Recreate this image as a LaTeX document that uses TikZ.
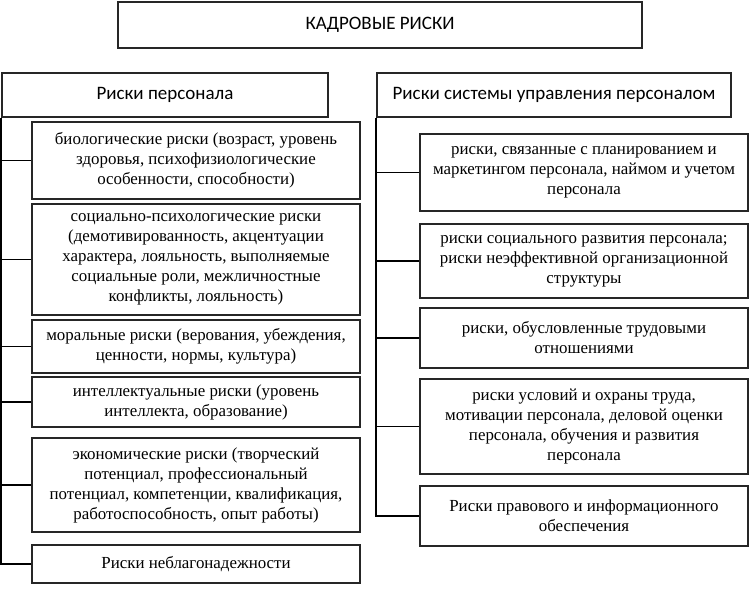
\documentclass[tikz,border=0pt]{standalone}
\usepackage{fontspec}
\setmainfont{Liberation Serif}
\newfontfamily\hdrfont{Carlito}
\begin{document}
\begin{tikzpicture}[x=1pt,y=-1pt,
  box/.style={draw=black!85, line width=1.5pt, align=center, inner sep=0pt,
    font=\rmfamily\fontsize{16.9}{20}\selectfont},
  hbox/.style={box, font=\hdrfont\fontsize{19}{20}\selectfont},
  link/.style={draw=black, line width=1.8pt}]
\useasboundingbox (0,0) rectangle (750,594);
\node[box, font=\hdrfont\fontsize{19}{20}\selectfont, minimum width=524pt, minimum height=46pt] (title) at (380,25) {КАДРОВЫЕ РИСКИ};
\node[hbox, minimum width=326pt, minimum height=44pt] (hL) at (165,95) {Риски персонала};
\node[hbox, minimum width=354pt, minimum height=44pt] (hR) at (554,95) {Риски системы управления персоналом};
% left column
\node[box, minimum width=328pt, minimum height=77pt] (L1) at (196,160.5) {биологические риски (возраст, уровень\\здоровья, психофизиологические\\особенности, способности)};
\node[box, minimum width=328pt, minimum height=111pt] (L2) at (196,259.5) {социально-психологические риски\\(демотивированность, акцентуации\\характера, лояльность, выполняемые\\социальные роли, межличностные\\конфликты, лояльность)};
\node[box, minimum width=328pt, minimum height=53pt] (L3) at (196,346.5) {моральные риски (верования, убеждения,\\ценности, нормы, культура)};
\node[box, minimum width=328pt, minimum height=50pt] (L4) at (196,402) {интеллектуальные риски (уровень\\интеллекта, образование)};
\node[box, minimum width=328pt, minimum height=94pt] (L5) at (196,485) {экономические риски (творческий\\потенциал, профессиональный\\потенциал, компетенции, квалификация,\\работоспособность, опыт работы)};
\node[box, minimum width=328pt, minimum height=38pt] (L6) at (196,564) {Риски неблагонадежности};
% right column
\node[box, minimum width=328pt, minimum height=77pt] (R1) at (584,172.5) {риски, связанные с планированием и\\маркетингом персонала, наймом и учетом\\персонала};
\node[box, minimum width=328pt, minimum height=74pt] (R2) at (584,261) {риски социального развития персонала;\\риски неэффективной организационной\\структуры};
\node[box, minimum width=328pt, minimum height=60pt] (R3) at (584,338) {риски, обусловленные трудовыми\\отношениями};
\node[box, minimum width=328pt, minimum height=95pt] (R4) at (584,426.5) {риски условий и охраны труда,\\мотивации персонала, деловой оценки\\персонала, обучения и развития\\персонала};
\node[box, minimum width=328pt, minimum height=60pt] (R5) at (584,516) {Риски правового и информационного\\обеспечения};
% connectors
\foreach \n in {L1,L2,L3,L4,L5,L6} \draw[link] (hL.south west) |- (\n.west);
\foreach \n in {R1,R2,R3,R4,R5} \draw[link] (hR.south west) |- (\n.west);
\end{tikzpicture}
\end{document}
